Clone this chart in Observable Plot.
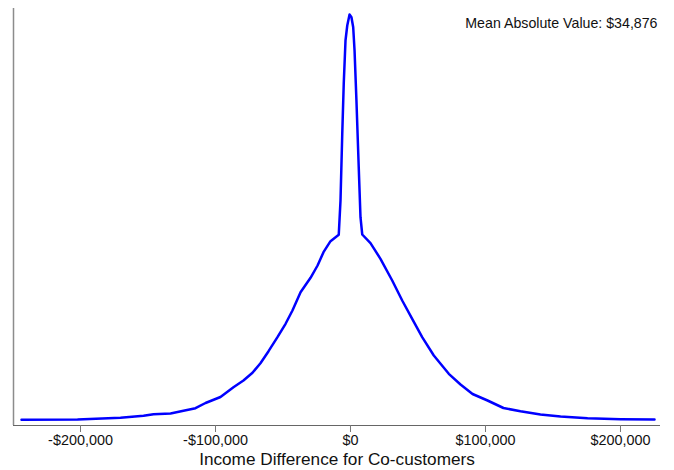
<!DOCTYPE html>
<html>
<head>
<meta charset="utf-8">
<script src="https://cdn.jsdelivr.net/npm/d3@7"></script>
<script src="https://cdn.jsdelivr.net/npm/@observablehq/plot@0.6"></script>
<style>
  html, body { margin: 0; padding: 0; background: #fff; }
  #chart { width: 674px; height: 470px; }
</style>
</head>
<body>
<div id="chart"></div>
<script>
// Income difference (dollars) and kernel density (arbitrary units)
const incomeDiff = [-243700, -202200, -170400, -153300, -145900, -133300, -123700, -114800, -107400, -96300,
  -86700, -79300, -72600, -66700, -60700, -54100, -48100, -43000, -37000, -29600,
  -24400, -20000, -14800, -8700, -7400, -6100, -5000, -3700, -2400, -700,
  700, 2000, 3000, 4400, 6100, 7400, 8700, 14800, 22200, 30900,
  38300, 45700, 53100, 61700, 72800, 81500, 90400, 101500, 113300, 125900,
  140700, 155600, 175600, 200000, 225200];
const density = [0.57, 0.60, 0.77, 0.97, 1.13, 1.20, 1.47, 1.73, 2.25, 2.85,
  3.83, 4.50, 5.27, 6.23, 7.43, 8.83, 10.17, 11.50, 13.33, 14.77,
  16.00, 17.33, 18.43, 19.07, 22.50, 29.20, 34.20, 38.50, 40.00, 41.10,
  40.83, 39.83, 37.50, 32.50, 25.83, 20.83, 19.10, 18.23, 16.67, 14.50,
  12.50, 10.67, 8.83, 7.00, 5.17, 4.10, 3.15, 2.50, 1.75, 1.43,
  1.10, 0.90, 0.73, 0.63, 0.60];
const xTicks = [-200000, -100000, 0, 100000, 200000];
const xLabel = "Income Difference for Co-customers";
const note = "Mean Absolute Value: $34,876";

const data = incomeDiff.map((x, i) => ({x, y: density[i]}));
const xDomain = [-249630, 229630];
const fmt = d => (d < 0 ? "-" : "") + "$" + d3.format(",")(Math.abs(d));

const chart = Plot.plot({
  width: 674,
  height: 470,
  marginTop: 8,
  marginBottom: 45,
  marginLeft: 13,
  marginRight: 14,
  style: {fontFamily: "'Liberation Sans', Arial, sans-serif", background: "#fff"},
  x: {domain: xDomain},
  y: {domain: [0, 41.7], axis: null},
  marks: [
    Plot.ruleX([xDomain[0]], {stroke: "#8c8c8c", strokeWidth: 1.5}),
    Plot.ruleY([0], {stroke: "#666", strokeWidth: 1.2}),
    Plot.axisX({ticks: xTicks, tickFormat: fmt, tickSize: 7, tickPadding: 2,
      stroke: "#777", fill: "#111", fontSize: 14.4, label: null}),
    Plot.line(data, {x: "x", y: "y", stroke: "#0000ff", strokeWidth: 2.5, curve: "linear"}),
    Plot.text([note], {frameAnchor: "top-right", dx: -3, dy: 9, text: d => d,
      fontSize: 14.2, fill: "#111", textAnchor: "end"}),
    Plot.text([xLabel], {frameAnchor: "bottom", dy: 39.5, text: d => d,
      fontSize: 17.2, fill: "#111"})
  ]
});
document.getElementById("chart").appendChild(chart);
</script>
</body>
</html>
